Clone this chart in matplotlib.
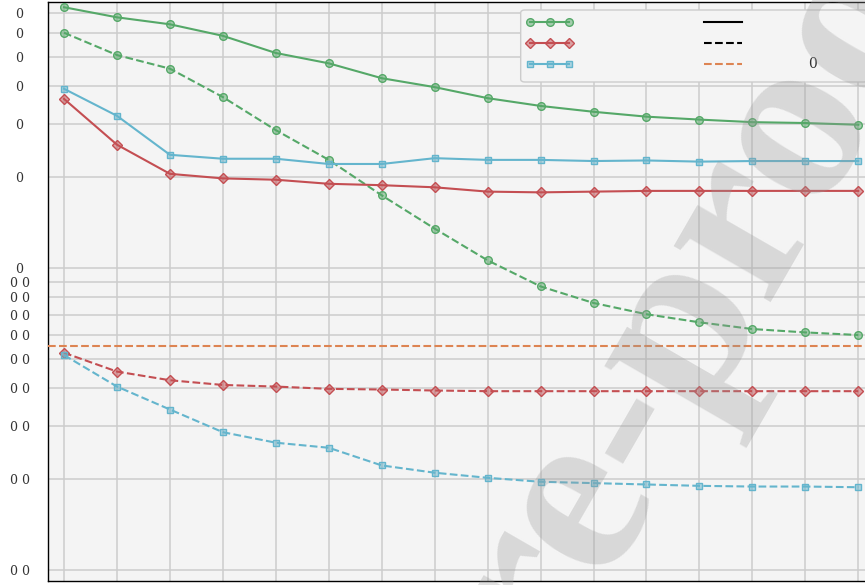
import matplotlib
matplotlib.use("Agg")
import matplotlib.pyplot as plt
from matplotlib.colors import to_rgba
from matplotlib.lines import Line2D
from matplotlib.patches import FancyBboxPatch
from matplotlib.ticker import NullLocator

# --- datos por época (escala log) ---
epochs = list(range(1, 17))
green_solid = [7.30, 6.76, 6.41, 5.87, 5.15, 4.76, 4.25, 3.97,
               3.65, 3.44, 3.29, 3.17, 3.10, 3.04, 3.02, 2.98]
green_dashed = [6.01, 5.07, 4.57, 3.68, 2.86, 2.28, 1.74, 1.35,
                1.06, 0.869, 0.766, 0.703, 0.661, 0.628, 0.612, 0.600]
red_solid = [3.63, 2.56, 2.05, 1.98, 1.96, 1.90, 1.88, 1.85,
             1.79, 1.78, 1.79, 1.80, 1.80, 1.80, 1.80, 1.80]
red_dashed = [0.524, 0.454, 0.425, 0.410, 0.405, 0.398, 0.396, 0.393,
              0.391, 0.391, 0.391, 0.391, 0.391, 0.391, 0.391, 0.391]
blue_solid = [3.92, 3.19, 2.37, 2.30, 2.30, 2.21, 2.21, 2.31,
              2.28, 2.28, 2.26, 2.27, 2.25, 2.26, 2.26, 2.26]
blue_dashed = [0.515, 0.405, 0.340, 0.286, 0.264, 0.254, 0.222, 0.210,
               0.202, 0.196, 0.194, 0.192, 0.190, 0.189, 0.189, 0.188]
reference_level = 0.552

ytick_values = [0.1, 0.2, 0.3, 0.4, 0.5, 0.6, 0.7, 0.8, 0.9, 1, 2, 3, 4, 5, 6, 7]
ytick_labels = ["0 0"] * 9 + ["0"] * 7
legend_labels_models = ["", "", ""]
legend_labels_styles = ["", "", "0"]

GREEN = "#55a868"
RED = "#c44e52"
BLUE = "#64b5cd"
ORANGE = "#dd8452"
BG = "#f4f4f4"

plt.rcParams["font.family"] = ["DejaVu Serif"]

fig = plt.figure(figsize=(8.65, 5.85), dpi=100)
ax = fig.add_axes([0.05584, 0.00735, 0.95457, 0.98872])
ax.set_facecolor(BG)


def serie(y, color, marker, ms, ls):
    ax.plot(epochs, y, color=color, lw=1.5, ls=ls, marker=marker, ms=ms,
            mfc=to_rgba(color, 0.5), mec=color, mew=1.0, zorder=3)


serie(green_solid, GREEN, "o", 5.5, "-")
serie(green_dashed, GREEN, "o", 5.5, "--")
serie(red_solid, RED, "D", 5, "-")
serie(red_dashed, RED, "D", 5, "--")
serie(blue_solid, BLUE, "s", 5, "-")
serie(blue_dashed, BLUE, "s", 5, "--")
ax.axhline(reference_level, color=ORANGE, lw=1.5, ls="--", zorder=3)

ax.set_yscale("log")
ax.set_ylim(0.0922, 7.58)
ax.set_xlim(0.703, 16.297)
ax.set_yticks(ytick_values, ytick_labels, ha="center")
ax.yaxis.set_minor_locator(NullLocator())
ax.set_xticks(epochs)
ax.tick_params(axis="y", length=0, pad=20.7, labelsize=9, labelcolor="#333333")
ax.tick_params(axis="x", length=0, labelbottom=False)

ax.set_axisbelow(True)
ax.grid(True, color="#cccccc", lw=1.1)
for lado in ["left", "top", "bottom"]:
    ax.spines[lado].set_color("black")
    ax.spines[lado].set_linewidth(1.0)
ax.spines["right"].set_visible(False)

# leyenda: modelos (izq) y estilos de linea (der)
handles = [
    Line2D([], [], color=GREEN, lw=1.5, marker="o", ms=5.5, mfc=to_rgba(GREEN, 0.5), mec=GREEN),
    Line2D([], [], color=RED, lw=1.5, marker="D", ms=5, mfc=to_rgba(RED, 0.5), mec=RED),
    Line2D([], [], color=BLUE, lw=1.5, marker="s", ms=5, mfc=to_rgba(BLUE, 0.5), mec=BLUE),
    Line2D([], [], color="black", lw=1.5, ls="-"),
    Line2D([], [], color="black", lw=1.5, ls="--"),
    Line2D([], [], color=ORANGE, lw=1.5, ls="--"),
]
caja = FancyBboxPatch((0.5721, 0.8622), 0.4206, 0.1245,
                      boxstyle="round,pad=0,rounding_size=0.005",
                      transform=ax.transAxes, fc=BG, ec="#cccccc", lw=1.0,
                      zorder=4.9, clip_on=False)
ax.add_patch(caja)
ax.legend(handles, legend_labels_models + legend_labels_styles, ncol=2,
          loc="upper left", bbox_to_anchor=(0.5721, 0.9867), borderaxespad=0,
          frameon=False, fontsize=10, numpoints=3, handlelength=3.35,
          handletextpad=4.44, columnspacing=4.7, labelspacing=0.5,
          borderpad=0.4, labelcolor="#333333")

# marca de agua
fig.text(0.533, -0.229, "Journal Pre-proof", rotation=60, rotation_mode="anchor",
         ha="center", va="center", fontsize=175, family="Liberation Serif",
         weight="bold", color="#999999", alpha=0.3, zorder=10)

fig.savefig("out.png", dpi=100)
